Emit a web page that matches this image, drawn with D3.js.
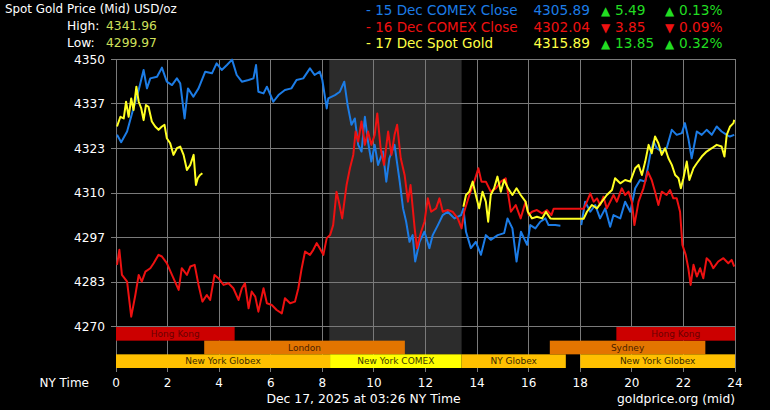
<!DOCTYPE html>
<html><head><meta charset="utf-8">
<script src="https://cdn.jsdelivr.net/npm/d3@7"></script>
<style>html,body{margin:0;padding:0;background:#000;}svg{display:block;}</style>
</head><body>
<svg id="c" width="770" height="410"></svg>
<script>
// ---------- data ----------
const xTicks = [0, 2, 4, 6, 8, 10, 12, 14, 16, 18, 20, 22, 24];
const yTicks = [4270, 4283.33, 4296.67, 4310, 4323.33, 4336.67, 4350];

// 15 Dec COMEX Close (blue) : [hour, price], null = gap
const series15 = [
 [0.04,4327.4],[0.2,4325.2],[0.43,4328.4],[0.62,4333.8],[0.88,4340.8],[1.07,4346.8],[1.2,4341.3],[1.33,4344.3],
 [1.59,4344.8],[1.78,4347.5],[1.97,4343.3],[2.17,4342.3],[2.36,4344.3],[2.49,4342.8],[2.66,4332.3],[2.79,4341.3],
 [3.0,4338.8],[3.2,4341.3],[3.46,4346.3],[3.72,4345.8],[3.9,4348.8],[4.1,4346.8],[4.3,4348.3],[4.5,4349.9],
 [4.68,4345.3],[4.88,4343.3],[5.14,4343.8],[5.33,4344.3],[5.43,4348.3],[5.52,4340.3],[5.72,4339.8],[5.85,4341.8],
 [6.1,4337.3],[6.3,4339.3],[6.55,4340.8],[6.8,4341.3],[7.0,4343.8],[7.26,4344.3],[7.52,4347.3],[7.7,4345.3],
 [7.9,4346.3],[8.0,4343.8],[8.17,4335.3],[8.23,4338.3],[8.49,4339.3],[8.68,4340.3],[8.85,4343.3],[8.98,4336.3],
 [9.13,4330.4],[9.26,4332.3],[9.39,4324.4],[9.52,4322.4],[9.65,4332.8],[9.77,4325.4],[9.9,4319.4],[10.03,4324.4],
 [10.16,4318.4],[10.35,4322.4],[10.48,4313.4],[10.6,4320.4],[10.8,4324.4],[11.0,4313.4],[11.13,4305.4],[11.25,4301.4],
 [11.38,4295.4],[11.5,4297.4],[11.6,4289.5],[11.77,4295.4],[11.96,4298.4],[12.15,4293.5],[12.28,4297.4],[12.48,4300.4],
 [12.67,4303.4],[12.86,4304.4],[13.12,4302.4],[13.38,4303.4],[13.47,4305.4],[13.57,4298.4],[13.76,4293.5],[13.95,4295.4],
 [14.15,4291.5],[14.34,4297.4],[14.53,4296.0],[14.8,4297.4],[15.05,4298.0],[15.18,4302.4],[15.37,4299.4],[15.53,4289.5],
 [15.7,4298.4],[15.94,4294.5],[16.06,4300.4],[16.26,4299.4],[16.45,4301.4],[16.65,4302.4],[16.77,4300.4],[17.03,4300.4],
 [17.23,4300.2], null,
 [18.04,4300.4],[18.19,4307.4],[18.39,4304.4],[18.58,4306.4],[18.77,4302.4],[18.97,4305.4],[19.16,4299.9],[19.29,4303.4],
 [19.55,4302.4],[19.74,4307.4],[19.94,4304.4],[20.13,4311.4],[20.32,4313.9],[20.52,4313.4],[20.71,4321.4],[20.84,4325.4],
 [20.97,4323.4],[21.16,4322.4],[21.35,4323.4],[21.55,4328.9],[21.74,4327.4],[21.94,4327.9],[22.06,4330.9],[22.19,4326.4],
 [22.32,4320.4],[22.52,4328.4],[22.71,4327.4],[22.9,4328.9],[23.1,4327.4],[23.29,4329.9],[23.48,4328.4],[23.68,4327.4],
 [23.8,4326.9],[23.97,4327.4]
];

// 16 Dec COMEX Close (red)
const series16 = [
 [0.04,4288.5],[0.13,4293.0],[0.23,4285.5],[0.43,4283.5],[0.59,4273.0],[0.75,4279.5],[0.88,4285.5],[1.0,4283.5],
 [1.14,4286.5],[1.33,4287.5],[1.46,4289.0],[1.65,4291.5],[1.78,4291.0],[1.97,4289.0],[2.17,4285.5],[2.43,4281.0],
 [2.55,4287.5],[2.75,4285.5],[2.88,4288.0],[3.05,4288.5],[3.2,4282.5],[3.35,4277.5],[3.52,4279.5],[3.65,4278.0],
 [3.82,4285.5],[3.97,4284.5],[4.17,4282.5],[4.36,4283.0],[4.55,4281.5],[4.75,4278.0],[4.88,4281.5],[5.0,4283.0],
 [5.14,4275.5],[5.26,4280.5],[5.4,4279.0],[5.52,4274.5],[5.72,4281.5],[5.85,4277.0],[6.04,4276.5],[6.23,4275.0],
 [6.43,4274.0],[6.55,4278.5],[6.75,4277.0],[6.94,4277.5],[7.07,4281.5],[7.2,4287.5],[7.33,4292.5],[7.52,4291.5],
 [7.65,4293.0],[7.78,4295.0],[7.9,4293.5],[8.04,4291.5],[8.17,4296.5],[8.3,4297.4],[8.42,4300.4],[8.55,4310.4],
 [8.64,4307.4],[8.77,4302.4],[8.94,4312.4],[9.07,4317.4],[9.2,4321.4],[9.29,4328.4],[9.39,4325.4],[9.52,4331.4],
 [9.65,4324.4],[9.77,4328.4],[9.9,4324.4],[10.03,4327.4],[10.13,4333.8],[10.26,4323.4],[10.39,4318.4],[10.55,4328.4],
 [10.68,4321.4],[10.8,4327.4],[10.9,4330.4],[11.04,4320.4],[11.19,4315.4],[11.32,4307.4],[11.42,4312.4],[11.58,4299.4],
 [11.67,4293.5],[11.83,4298.4],[11.96,4301.4],[12.09,4308.4],[12.22,4304.4],[12.41,4305.4],[12.54,4308.4],[12.67,4304.4],
 [12.86,4304.9],[13.05,4304.4],[13.25,4302.4],[13.4,4299.4],[13.5,4304.4],[13.7,4309.4],[13.89,4313.4],[14.05,4317.4],
 [14.17,4313.4],[14.34,4313.4],[14.53,4310.4],[14.73,4311.4],[14.92,4313.4],[15.11,4314.4],[15.31,4304.4],[15.5,4306.4],
 [15.69,4302.4],[15.88,4307.4],[16.0,4303.4],[16.13,4304.4],[16.32,4304.9],[16.52,4303.9],[16.71,4304.9],[16.88,4303.4],
 [16.97,4305.3],[18.13,4305.3],[18.26,4307.4],[18.39,4309.9],[18.52,4307.4],[18.65,4308.4],[18.77,4306.4],[18.9,4308.9],
 [19.03,4305.4],[19.16,4307.4],[19.29,4309.4],[19.42,4307.4],[19.61,4311.4],[19.74,4309.4],[19.87,4310.4],[20.0,4307.4],
 [20.1,4300.4],[20.26,4307.4],[20.45,4311.4],[20.62,4316.4],[20.77,4313.9],[20.9,4310.4],[21.03,4306.4],[21.16,4310.4],
 [21.35,4309.4],[21.48,4310.9],[21.61,4308.4],[21.74,4308.4],[21.87,4304.4],[21.96,4294.5],[22.09,4291.5],[22.19,4287.5],
 [22.28,4282.5],[22.39,4288.5],[22.52,4285.0],[22.65,4287.5],[22.77,4284.5],[22.9,4290.5],[23.03,4289.5],[23.16,4287.5],
 [23.35,4289.5],[23.55,4290.5],[23.74,4289.0],[23.87,4290.0],[23.97,4288.0]
];

// 17 Dec Spot Gold (yellow)
const series17 = [
 [0.04,4329.9],[0.17,4332.8],[0.3,4332.3],[0.39,4337.3],[0.49,4332.8],[0.59,4338.3],[0.68,4334.8],[0.79,4341.8],
 [0.88,4337.3],[0.98,4335.3],[1.07,4331.8],[1.16,4336.3],[1.26,4335.8],[1.39,4331.4],[1.52,4329.9],[1.65,4328.9],
 [1.78,4329.9],[1.88,4330.4],[1.97,4326.4],[2.1,4324.9],[2.23,4321.4],[2.36,4323.4],[2.49,4323.9],[2.62,4321.4],
 [2.75,4316.9],[2.88,4318.4],[3.01,4321.4],[3.1,4312.4],[3.17,4314.4],[3.26,4315.4],[3.35,4315.9], null,
 [13.47,4305.9],[13.57,4309.4],[13.7,4310.4],[13.83,4313.4],[13.95,4309.4],[14.08,4305.4],[14.21,4310.4],[14.34,4307.4],
 [14.43,4301.4],[14.53,4309.4],[14.66,4311.4],[14.79,4314.9],[14.92,4310.4],[15.05,4313.9],[15.2,4311.4],[15.37,4309.4],
 [15.53,4311.4],[15.69,4309.4],[15.88,4307.4],[15.97,4304.4],[16.13,4302.4],[16.32,4302.9],[16.52,4302.4],[16.67,4304.4],
 [16.84,4302.4],[16.97,4302.3],[18.13,4302.3],[18.26,4304.4],[18.45,4306.4],[18.65,4305.4],[18.84,4307.4],[19.03,4309.4],
 [19.23,4310.9],[19.35,4314.4],[19.55,4312.9],[19.74,4313.9],[19.94,4313.4],[20.13,4317.4],[20.26,4318.4],[20.39,4315.4],
 [20.52,4319.4],[20.65,4324.4],[20.77,4321.9],[20.9,4326.9],[21.03,4324.9],[21.16,4321.4],[21.29,4323.4],[21.42,4320.4],
 [21.55,4318.4],[21.68,4315.4],[21.81,4314.4],[21.9,4311.4],[22.0,4314.4],[22.13,4319.4],[22.23,4313.9],[22.39,4317.4],
 [22.52,4318.9],[22.71,4320.9],[22.9,4322.4],[23.1,4323.4],[23.29,4324.4],[23.48,4323.9],[23.59,4320.9],[23.68,4327.4],
 [23.81,4329.9],[23.94,4330.9],[23.97,4331.9]
];

// trading sessions
const sessionNames = ["Hong Kong", "London", "New York Globex", "New York COMEX", "NY Globex", "Sydney", "Hong Kong", "New York Globex"];
const sessionStart = [0, 3.42, 0, 8.3, 13.4, 16.82, 19.4, 18.0];
const sessionEnd   = [4.6, 11.2, 8.3, 13.4, 17.44, 22.85, 24, 24];
const sessionRow   = [0, 1, 2, 2, 2, 1, 0, 2];
const comexShade = [8.27, 13.4];

// header
const titleText = "Spot Gold Price (Mid) USD/oz";
const highValue = "4341.96";
const lowValue = "4299.97";
const legendLabels = ["- 15 Dec COMEX Close", "- 16 Dec COMEX Close", "- 17 Dec Spot Gold"];
const legendPrices = ["4305.89", "4302.04", "4315.89"];
const legendChanges = ["5.49", "3.85", "13.85"];
const legendPercents = ["0.13%", "0.09%", "0.32%"];
const legendUp = [true, false, true];
const footerDate = "Dec 17, 2025 at 03:26 NY Time";
const footerSource = "goldprice.org (mid)";

// ---------- drawing ----------
const svg = d3.select("#c");
const FONT = "'DejaVu Sans', Verdana, sans-serif";
const seriesColors = ["#1c7ce6", "#ee1111", "#ffff22"];
const sessionFill = {"Hong Kong":"#cc0000","London":"#e37500","Sydney":"#e37500","New York Globex":"#ffc000","NY Globex":"#ffc000","New York COMEX":"#ffff00"};
const sessionText = {"Hong Kong":"#6a0000","London":"#4a1e00","Sydney":"#4a1e00","New York Globex":"#3a2a00","NY Globex":"#3a2a00","New York COMEX":"#3a3a00"};

const x = d3.scaleLinear().domain([0, 24]).range([116, 735]);
const y = d3.scaleLinear().domain([4270, 4350]).range([326.7, 59.3]);
const row = d3.scaleBand().domain([0, 1, 2]).range([327, 368]);

svg.append("rect").attr("width", 770).attr("height", 410).attr("fill", "#000");

// shaded COMEX period
svg.append("rect")
  .attr("x", x(comexShade[0])).attr("y", y(4350))
  .attr("width", x(comexShade[1]) - x(comexShade[0]))
  .attr("height", row(2) - y(4350))
  .attr("fill", "#2c2c2c");

// grid
const gridColor = "#7a7a7a";
svg.append("g").selectAll("line").data(xTicks).join("line")
  .attr("x1", d => x(d)).attr("x2", d => x(d))
  .attr("y1", y(4350)).attr("y2", 372)
  .attr("stroke", gridColor).attr("stroke-width", 1).attr("shape-rendering", "crispEdges");
svg.append("g").selectAll("line").data(yTicks).join("line")
  .attr("x1", 111).attr("x2", x(24))
  .attr("y1", d => y(d)).attr("y2", d => y(d))
  .attr("stroke", gridColor).attr("stroke-width", 1).attr("shape-rendering", "crispEdges");

// y labels
svg.append("g").selectAll("text").data(yTicks).join("text")
  .attr("x", 105).attr("y", d => y(d)).attr("dy", "0.35em")
  .attr("text-anchor", "end").attr("fill", "#fff")
  .style("font", "12.2px " + FONT)
  .text(d => d3.format(".0f")(d));

// x labels
svg.append("g").selectAll("text").data(xTicks).join("text")
  .attr("x", d => x(d)).attr("y", 383).attr("dy", "0.35em")
  .attr("text-anchor", "middle").attr("fill", "#fff")
  .style("font", "12px " + FONT)
  .text(d => d);
svg.append("text").attr("x", 89).attr("y", 383).attr("dy", "0.35em")
  .attr("text-anchor", "end").attr("fill", "#fff").style("font", "12px " + FONT).text("NY Time");

// session bars
const sess = sessionNames.map((n, i) => ({name: n, s: sessionStart[i], e: sessionEnd[i], r: sessionRow[i]}));
const sg = svg.append("g").selectAll("g").data(sess).join("g");
sg.append("rect")
  .attr("x", d => x(d.s)).attr("y", d => row(d.r))
  .attr("width", d => x(d.e) - x(d.s)).attr("height", row.bandwidth())
  .attr("fill", d => sessionFill[d.name]);
sg.append("text")
  .attr("x", d => (x(d.s) + x(d.e)) / 2).attr("y", d => row(d.r) + row.bandwidth() / 2)
  .attr("dy", "0.36em").attr("text-anchor", "middle")
  .attr("fill", d => sessionText[d.name])
  .style("font", "9px " + FONT)
  .text(d => d.name);

// lines
svg.append("clipPath").attr("id", "plotclip").append("rect")
  .attr("x", x(0)).attr("y", y(4350) - 2).attr("width", x(24) - x(0)).attr("height", 380 - y(4350));
const line = d3.line().defined(d => d !== null).x(d => x(d[0])).y(d => y(d[1]));
const lg = svg.append("g").attr("clip-path", "url(#plotclip)");
[series15, series16, series17].forEach((s, i) => {
  lg.append("path").datum(s).attr("d", line)
    .attr("fill", "none").attr("stroke", seriesColors[i])
    .attr("stroke-width", 2).attr("stroke-linejoin", "round");
});

// header
svg.append("text").attr("x", 5).attr("y", 13).attr("fill", "#fff").style("font", "11.9px " + FONT).text(titleText);
svg.append("text").attr("x", 67).attr("y", 29.5).attr("fill", "#fff").style("font", "12.3px " + FONT).text("High:");
svg.append("text").attr("x", 106).attr("y", 29.5).attr("fill", "#cfe05a").style("font", "12.3px " + FONT).text(highValue);
svg.append("text").attr("x", 67).attr("y", 46.5).attr("fill", "#fff").style("font", "12.3px " + FONT).text("Low:");
svg.append("text").attr("x", 106).attr("y", 46.5).attr("fill", "#cfe05a").style("font", "12.3px " + FONT).text(lowValue);

const legendColors = ["#1c7ce6", "#ee1111", "#ffff44"];
legendLabels.forEach((lab, i) => {
  const yy = 15 + i * 16.7;
  const chCol = legendUp[i] ? "#22dd22" : "#ee1111";
  const arrow = legendUp[i] ? "▲" : "▼";
  svg.append("text").attr("x", 366).attr("y", yy).attr("fill", legendColors[i]).style("font", "13.5px " + FONT).text(lab);
  svg.append("text").attr("x", 590).attr("y", yy).attr("text-anchor", "end").attr("fill", legendColors[i]).style("font", "13.7px " + FONT).text(legendPrices[i]);
  svg.append("text").attr("x", 601).attr("y", yy).attr("fill", chCol).style("font", "12px " + FONT).text(arrow);
  svg.append("text").attr("x", 615).attr("y", yy).attr("fill", chCol).style("font", "13.7px " + FONT).text(legendChanges[i]);
  svg.append("text").attr("x", 665).attr("y", yy).attr("fill", chCol).style("font", "12px " + FONT).text(arrow);
  svg.append("text").attr("x", 679).attr("y", yy).attr("fill", chCol).style("font", "13.7px " + FONT).text(legendPercents[i]);
});

// footer
svg.append("text").attr("x", 363.5).attr("y", 403).attr("text-anchor", "middle").attr("fill", "#fff").style("font", "12.4px " + FONT).text(footerDate);
svg.append("text").attr("x", 735).attr("y", 403).attr("text-anchor", "end").attr("fill", "#fff").style("font", "12.3px " + FONT).text(footerSource);
</script>
</body></html>
